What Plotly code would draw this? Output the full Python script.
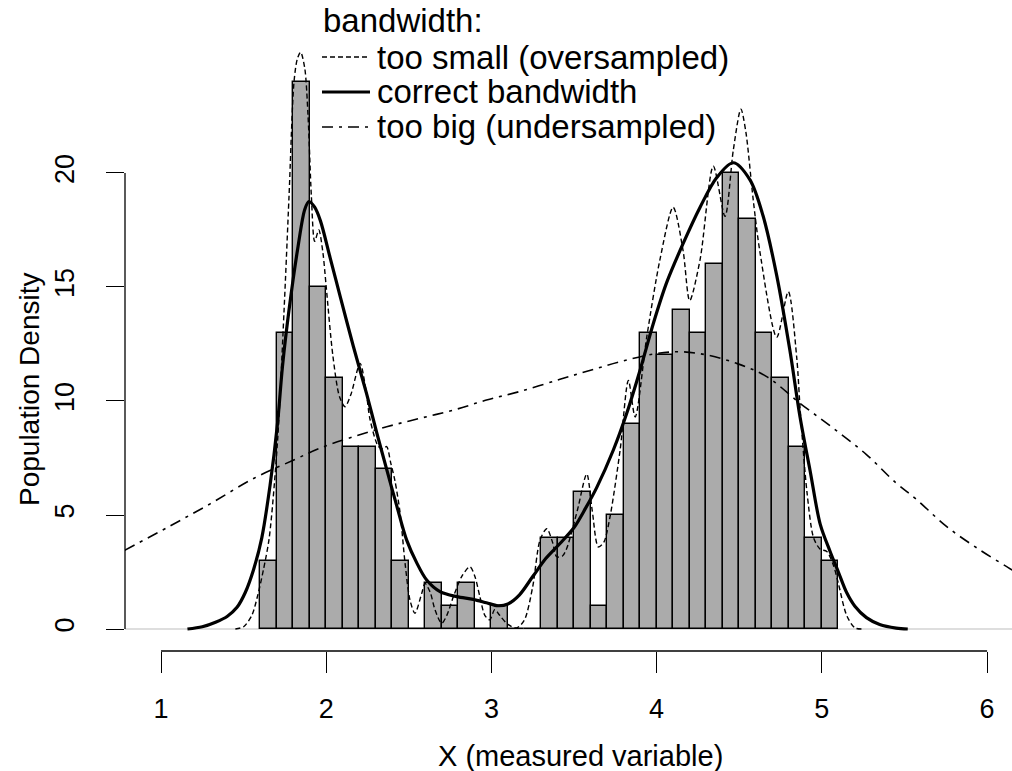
import plotly.graph_objects as go

# ---------------- data ----------------
bin_start = [1.6, 1.7, 1.8, 1.9, 2.0, 2.1, 2.2, 2.3, 2.4, 2.5, 2.6, 2.7, 2.8, 2.9,
             3.0, 3.1, 3.2, 3.3, 3.4, 3.5, 3.6, 3.7, 3.8, 3.9, 4.0, 4.1, 4.2, 4.3,
             4.4, 4.5, 4.6, 4.7, 4.8, 4.9, 5.0]
bin_height = [3, 13, 24, 15, 11, 8, 8, 7, 3, 0, 2, 1, 2, 0,
              1, 0, 0, 4, 4, 6, 1, 5, 9, 13, 12, 14, 13, 16,
              20, 18, 13, 11, 8, 4, 3]

# too small bandwidth (oversampled)
small_x = [1.45, 1.5, 1.55, 1.586, 1.62, 1.655, 1.705, 1.745, 1.775, 1.805, 1.825, 1.845,
           1.87, 1.89, 1.91, 1.93, 1.955, 1.98, 2.0, 2.04, 2.08, 2.114, 2.15, 2.205,
           2.24, 2.265, 2.316, 2.345, 2.366, 2.39, 2.416, 2.447, 2.477, 2.507, 2.537,
           2.578, 2.598, 2.63, 2.659, 2.699, 2.73, 2.77, 2.82, 2.87, 2.9, 2.93, 2.96,
           2.99, 3.02, 3.05, 3.1, 3.153, 3.2, 3.25, 3.294, 3.335, 3.37, 3.395, 3.43,
           3.456, 3.52, 3.577, 3.61, 3.647, 3.68, 3.718, 3.779, 3.829, 3.87, 3.94,
           4.02, 4.1, 4.16, 4.2, 4.263, 4.343, 4.414, 4.464, 4.51, 4.54, 4.585, 4.626,
           4.727, 4.797, 4.848, 4.87, 4.91, 4.95, 4.99, 5.03, 5.07, 5.1, 5.15, 5.2, 5.25]
small_y = [0.0, 0.1, 0.6, 1.5, 2.6, 4.0, 8.2, 14.0, 19.0, 24.0, 25.0, 25.3,
           24.6, 22.5, 19.0, 17.0, 17.5, 16.5, 15.0, 12.0, 10.2, 9.75, 10.3, 11.65,
           10.5, 9.2, 8.0, 7.9, 8.0, 7.3, 6.5, 5.1, 2.9, 1.27, 0.69,
           1.56, 2.0, 1.6, 0.83, 0.25, 0.6, 1.42, 2.3, 2.73, 2.3, 1.42, 0.6,
           0.4, 0.85, 0.6, 0.2, 0.05, 0.4, 1.86, 3.9, 4.4, 3.8, 3.17, 3.2,
           3.54, 5.2, 6.8, 5.2, 3.6, 3.8, 4.93, 7.85, 10.9, 9.3, 12.8,
           16.2, 18.5, 16.6, 14.4, 16.2, 20.3, 18.1, 21.0, 22.8, 21.8, 18.8, 16.5,
           12.8, 14.8, 11.9, 9.5, 6.0, 4.0, 3.5, 3.4, 2.8, 2.0, 0.6, 0.05, 0.0]

# correct bandwidth
good_x = [1.16, 1.25, 1.33, 1.40, 1.46, 1.51, 1.56, 1.61, 1.66, 1.705, 1.735,
          1.775, 1.83, 1.87, 1.895, 1.93, 1.965, 2.023, 2.084, 2.164, 2.245, 2.306,
          2.366, 2.427, 2.487, 2.548, 2.608, 2.689, 2.79, 2.89, 2.97, 3.04, 3.1, 3.17,
          3.25, 3.33, 3.415, 3.5, 3.57, 3.637, 3.738, 3.819, 3.9, 3.98, 4.061, 4.16,
          4.263, 4.364, 4.464, 4.565, 4.645, 4.727, 4.807, 4.868, 4.93, 4.99, 5.05,
          5.1, 5.15, 5.2, 5.27, 5.35, 5.45, 5.52]
good_y = [0.0, 0.1, 0.3, 0.55, 0.95, 1.6, 2.6, 4.0, 6.3, 9.0, 11.5,
          14.0, 16.8, 18.4, 18.75, 18.5, 17.9, 16.3, 14.6, 12.4, 10.3, 8.6,
          7.0, 5.4, 3.9, 2.9, 2.15, 1.64, 1.42, 1.3, 1.15, 1.02, 1.1, 1.5,
          2.3, 3.1, 3.75, 4.45, 5.3, 6.2, 7.85, 9.46, 11.36, 13.4, 15.2, 16.9,
          18.5, 19.8, 20.45, 19.7, 18.1, 15.5, 12.2, 9.3, 6.9, 4.6, 3.4,
          2.5, 1.6, 1.0, 0.5, 0.2, 0.04, 0.0]

# too big bandwidth (undersampled)
big_x = [0.78, 1.05, 1.3, 1.56, 1.8, 1.962, 2.164, 2.366, 2.568, 2.77, 2.97, 3.173,
         3.415, 3.6, 3.779, 3.98, 4.142, 4.303, 4.484, 4.666, 4.868, 5.07, 5.27,
         5.45, 5.57, 5.756, 5.958, 6.151, 6.2]
big_y = [3.45, 4.5, 5.5, 6.6, 7.4, 7.93, 8.43, 8.87, 9.24, 9.6, 10.04, 10.42,
         10.95, 11.35, 11.72, 12.06, 12.16, 12.02, 11.65, 11.07, 9.9, 8.8, 7.65,
         6.4, 5.7, 4.49, 3.46, 2.59, 2.35]

x_ticks = [1, 2, 3, 4, 5, 6]
y_ticks = [0, 5, 10, 15, 20]

legend_title = "bandwidth:"
legend_labels = ["too small (oversampled)", "correct bandwidth", "too big (undersampled)"]
x_title = "X (measured variable)"
y_title = "Population Density"

# ---------------- layout geometry ----------------
W, H = 1012, 771
ML, MR, MT, MB = 125, 0, 20, 120
PW, PH = W - ML - MR, H - MT - MB


def xp(px):
    return (px - ML) / PW


def yp(py):
    return (H - MB - py) / PH


FONT = "Liberation Sans, Arial, Helvetica, sans-serif"
DASH_SMALL = "5px,3px"
DASH_BIG = "11px,6px,3px,6px"

fig = go.Figure()

fig.add_trace(go.Bar(
    x=bin_start, y=bin_height, width=0.1, offset=0,
    marker=dict(color="#ababab", line=dict(color="black", width=1.4)),
    showlegend=False, hoverinfo="skip"))

fig.add_trace(go.Scatter(
    x=big_x, y=big_y, mode="lines", line=dict(color="black", width=1.6, dash=DASH_BIG, shape="spline"),
    name=legend_labels[2], showlegend=False))
fig.add_trace(go.Scatter(
    x=small_x, y=small_y, mode="lines", line=dict(color="black", width=1.4, dash=DASH_SMALL, shape="spline", smoothing=0.8),
    name=legend_labels[0], showlegend=False))
fig.add_trace(go.Scatter(
    x=good_x, y=good_y, mode="lines", line=dict(color="black", width=3.2, shape="spline", smoothing=0.9),
    name=legend_labels[1], showlegend=False))

shapes = []
# zero baseline (gray)
shapes.append(dict(type="line", xref="paper", yref="y", x0=0, x1=1, y0=0, y1=0,
                   line=dict(color="#bdbdbd", width=1.2), layer="below"))
# R-style axis lines spanning the tick range only
shapes.append(dict(type="line", xref="x", yref="paper", x0=x_ticks[0], x1=x_ticks[-1], y0=0, y1=0,
                   line=dict(color="black", width=1.3)))
shapes.append(dict(type="line", xref="paper", yref="y", x0=0, x1=0, y0=y_ticks[0], y1=y_ticks[-1],
                   line=dict(color="black", width=1.3)))

# legend samples
row_y = [57, 92, 127]
styles = [dict(width=1.4, dash=DASH_SMALL), dict(width=3.2, dash="solid"), dict(width=1.6, dash=DASH_BIG)]
for ry, st in zip(row_y, styles):
    shapes.append(dict(type="line", xref="paper", yref="paper", x0=xp(322), x1=xp(370),
                       y0=yp(ry), y1=yp(ry), line=dict(color="black", **st)))

annotations = []
annotations.append(dict(text=legend_title, xref="paper", yref="paper", x=xp(321), y=yp(20),
                        xanchor="left", yanchor="middle", showarrow=False,
                        font=dict(family=FONT, size=33, color="black")))
for ry, lab in zip(row_y, legend_labels):
    annotations.append(dict(text=lab, xref="paper", yref="paper", x=xp(375), y=yp(ry),
                            xanchor="left", yanchor="middle", showarrow=False,
                            font=dict(family=FONT, size=33, color="black")))
annotations.append(dict(text=x_title, xref="paper", yref="paper", x=xp(580), y=yp(756),
                        xanchor="center", yanchor="middle", showarrow=False,
                        font=dict(family=FONT, size=29, color="black")))
annotations.append(dict(text=y_title, xref="paper", yref="paper", x=xp(29), y=yp(390),
                        xanchor="center", yanchor="middle", showarrow=False, textangle=-90,
                        font=dict(family=FONT, size=28, color="black")))

fig.update_layout(
    width=W, height=H,
    margin=dict(l=ML, r=MR, t=MT, b=MB, pad=0),
    paper_bgcolor="white", plot_bgcolor="white",
    bargap=0,
    shapes=shapes, annotations=annotations,
    font=dict(family=FONT, color="black"),
    xaxis=dict(range=[0.782, 6.151], tickvals=x_ticks, ticktext=[str(v) for v in x_ticks],
               ticks="outside", ticklen=21, tickwidth=1.3, tickcolor="black",
               showline=False, showgrid=False, zeroline=False,
               tickfont=dict(family=FONT, size=27, color="black"), ticklabelstandoff=13),
    yaxis=dict(range=[-0.965, 26.71], tickvals=y_ticks, ticktext=[str(v) for v in y_ticks],
               ticks="outside", ticklen=18, tickwidth=1.3, tickcolor="black", tickangle=-90,
               showline=False, showgrid=False, zeroline=False,
               tickfont=dict(family=FONT, size=27, color="black"), ticklabelstandoff=21),
)

fig.write_html("out.html")
